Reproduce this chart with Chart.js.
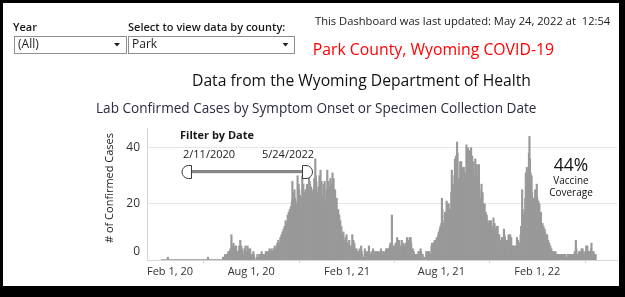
<!DOCTYPE html>
<html>
<head>
<meta charset="utf-8">
<title>Park County, Wyoming COVID-19</title>
<script src="https://cdn.jsdelivr.net/npm/chart.js@4.4.1/dist/chart.umd.min.js"></script>
<style>
  html, body { margin: 0; padding: 0; background: #fff; }
  #page { position: relative; width: 625px; height: 297px; overflow: hidden;
          font-family: "Open Sans", "Noto Sans", sans-serif; color: #222; }
  #chart { position: absolute; left: 0; top: 0; }
  .t { position: absolute; white-space: pre; line-height: 1; }
  .lbl { font-size: 11px; font-weight: 600; color: #1a1a1a; }
  .box { position: absolute; box-sizing: border-box; height: 18px; top: 36px;
         border: 1px solid #8f8f8f; background: #fff; }
  .box span { position: absolute; left: 3px; top: 1.3px; font-size: 12px; line-height: 1; color: #222; }
  .center { text-align: center; width: 80px; }
  #frame { position: absolute; left: 0; top: 0; width: 625px; height: 297px; box-sizing: border-box;
           border-style: solid; border-color: #000; border-width: 3px 6px 11px 3px; pointer-events: none; }
</style>
</head>
<body>
<div id="page">
  <canvas id="chart" width="625" height="297"></canvas>

  <div class="t lbl" style="left:13px; top:21.2px;">Year</div>
  <div class="box" style="left:14px; width:113px;"><span>(All)</span></div>
  <div class="t lbl" style="left:128px; top:21.2px;">Select to view data by county:</div>
  <div class="box" style="left:128px; width:167px;"><span>Park</span></div>

  <div class="t" style="left:315px; top:14.8px; font-size:11.2px; color:#1a1a1a;">This Dashboard was last updated: May 24, 2022 at  12:54</div>
  <div class="t" style="left:312.7px; top:42.3px; font-size:15.8px; color:#ff0000;">Park County, Wyoming COVID-19</div>
  <div class="t" style="left:192px; top:73.1px; font-size:15.7px; color:#111;">Data from the Wyoming Department of Health</div>
  <div class="t" style="left:96px; top:100.9px; font-size:13.6px; color:#2a2a40;">Lab Confirmed Cases by Symptom Onset or Specimen Collection Date</div>

  <div class="t" style="left:180px; top:128.5px; font-size:11px; font-weight:700; color:#1a1a1a;">Filter by Date</div>
  <div class="t" style="left:183px; top:148.4px; font-size:11px; color:#222;">2/11/2020</div>
  <div class="t" style="left:262px; top:148.4px; font-size:11px; color:#222;">5/24/2022</div>

  <div class="t center" style="left:531px; top:155.6px; font-size:17.5px; color:#111;">44%</div>
  <div class="t center" style="left:531px; top:174.5px; font-size:10px; color:#111;">Vaccine</div>
  <div class="t center" style="left:531px; top:186.6px; font-size:10px; color:#111;">Coverage</div>

  <svg width="625" height="297" style="position:absolute; left:0; top:0; pointer-events:none;">
    <!-- dropdown arrows -->
    <path d="M114 43 H120 L117 46.5 Z" fill="#222"/>
    <path d="M282.5 43 H288.5 L285.5 46.5 Z" fill="#222"/>
    <!-- date range slider -->
    <rect x="191.5" y="170" width="111" height="3.2" fill="#868686"/>
    <path d="M191.5 165.5 H188.5 A6.5 6.5 0 0 0 188.5 178.5 H191.5 Z" fill="#fff" stroke="#3a3a3a" stroke-width="1"/>
    <path d="M302.5 165.5 H306 A6.5 6.5 0 0 1 306 178.5 H302.5 Z" fill="#fff" stroke="#3a3a3a" stroke-width="1"/>
  </svg>

  <div id="frame"></div>
</div>

<script>
// Daily lab-confirmed cases for Park County, starting on firstDay.
const firstDay = '2020-02-11';

const cases2020 = [
  // Feb 11 - Feb 29
  0,0,0,0,0,0,0,0,0,0,0,0,1,0,0,0,0,0,0,
  // Mar
  0,0,0,0,0,0,0,0,0,0,0,0,0,0,0,0,0,0,0,0,0,0,0,0,0,0,0,0,0,0,0,
  // Apr
  0,0,0,0,0,0,0,0,0,0,0,0,0,0,0,0,0,0,0,0,0,0,0,0,0,0,0,0,0,0,
  // May
  0,0,0,0,0,0,0,0,0,1,0,0,0,0,0,0,0,0,0,0,0,0,0,0,0,0,0,0,0,0,0,
  // Jun
  0,0,0,0,0,0,0,1,0,1,1,2,0,1,2,1,2,3,2,3,1,4,3,9,5,5,2,6,4,5,
  // Jul
  4,2,5,3,2,3,3,1,5,4,7,3,5,4,3,1,2,2,4,3,5,2,3,2,5,3,4,2,3,4,2,
  // Aug
  2,1,2,1,3,2,1,0,0,0,0,1,2,1,0,1,2,1,2,1,3,2,1,2,1,0,2,1,3,2,3,
  // Sep
  2,1,3,2,4,3,2,3,4,3,2,3,4,2,5,3,4,3,5,6,4,7,5,6,4,8,6,9,7,10,
  // Oct
  8,11,9,12,10,14,12,13,11,16,14,17,15,18,16,19,17,21,28,22,24,19,25,22,21,18,20,17,30,24,27,
  // Nov
  25,21,23,19,22,20,30,26,27,22,24,20,25,21,24,27,23,24,21,32,28,27,23,26,22,24,20,25,22,29,
  // Dec
  26,36,30,28,24,21,24,26,22,30,27,32,26,28,23,20,23,27,24,28,21,19,21,25,32,24,28,22,26,23,29
];

const cases2021 = [
  // Jan
  24,27,23,31,26,29,25,22,25,22,19,22,17,15,18,14,16,13,14,11,12,9,8,9,10,7,6,7,8,5,9,
  // Feb
  6,4,5,3,7,5,4,5,3,4,9,6,7,5,6,4,3,2,4,3,2,1,3,2,4,2,3,5,
  // Mar
  3,2,1,0,1,0,4,2,3,1,2,1,3,2,5,3,2,1,2,1,3,2,4,2,2,1,3,2,3,2,2,
  // Apr
  3,2,3,1,2,1,4,2,3,2,3,1,2,2,3,2,4,3,4,2,4,3,4,5,6,4,5,16,5,4,
  // May
  5,3,5,4,6,5,4,8,6,7,5,7,4,5,3,5,7,4,6,5,3,5,4,6,4,5,8,6,7,5,6,
  // Jun
  8,5,8,6,4,3,4,2,3,2,1,2,2,1,2,1,2,3,2,3,2,4,3,2,1,2,1,0,1,0,
  // Jul
  0,0,3,2,3,1,3,2,3,2,1,2,5,6,4,6,5,6,7,5,7,6,8,6,7,9,10,8,11,12,10,
  // Aug
  13,22,18,12,13,11,14,17,15,17,21,18,20,17,20,16,18,15,18,24,32,26,27,22,27,30,36,31,37,33,42,
  // Sep
  38,29,26,29,24,35,28,35,31,27,33,29,33,30,31,27,28,41,36,34,40,35,39,30,28,30,40,33,37,32,
  // Oct
  35,30,28,29,36,31,30,34,28,26,30,34,25,22,20,22,27,23,24,20,19,17,20,16,17,14,16,13,14,12,13,
  // Nov
  11,14,12,14,10,12,9,12,15,11,13,10,11,9,12,10,12,9,8,9,7,6,7,5,8,6,8,7,11,9,
  // Dec
  8,6,7,5,6,7,5,9,7,8,9,6,8,5,4,5,3,5,4,5,3,4,5,8,6,7,5,6,4,6,9
];

const cases2022 = [
  // Jan
  12,8,25,18,14,16,13,17,22,31,28,33,27,30,26,38,44,36,31,28,30,24,18,22,20,17,21,25,19,23,27,
  // Feb
  22,19,21,17,20,16,14,17,13,12,13,10,12,9,11,10,8,9,7,9,6,7,5,6,4,5,3,4,
  // Mar
  3,2,3,1,3,2,2,3,1,2,2,1,2,2,1,2,1,2,2,1,2,1,2,2,1,2,1,0,0,1,2,
  // Apr
  2,1,2,1,2,2,1,2,1,2,2,1,2,3,2,7,4,2,2,1,2,3,2,3,2,3,4,2,4,3,
  // May 1 - May 24
  2,1,2,3,2,5,4,5,3,2,3,2,3,2,4,6,3,3,2,3,2,2,1,2
];

// Axis settings
const axisStart = '2020-01-14';
const axisEnd = '2022-07-04';
const xTickDates = ['2020-02-01', '2020-08-01', '2021-02-01', '2021-08-01', '2022-02-01'];
const xTickLabels = ['Feb 1, 20', 'Aug 1, 20', 'Feb 1, 21', 'Aug 1, 21', 'Feb 1, 22'];
const yTicks = [0, 20, 40];
const yMax = 47;

// Day number counted from 2020-01-01
const epoch = Date.UTC(2020, 0, 1);
function dayNum(iso) {
  const [y, m, d] = iso.split('-').map(Number);
  return Math.round((Date.UTC(y, m - 1, d) - epoch) / 86400000);
}

const start = dayNum(firstDay);
const points = cases2020.concat(cases2021, cases2022).map((v, i) => ({ x: start + i, y: v }));
const xTickDays = xTickDates.map(dayNum);

const FONT = '"Open Sans", "Noto Sans", sans-serif';

// Tick labels and the axis title, placed from the scales and kept inside the plot edges
const axisText = {
  id: 'axisText',
  afterDraw(chart) {
    const { ctx, chartArea } = chart;
    const xs = chart.scales.x, ys = chart.scales.y;
    ctx.save();
    ctx.fillStyle = '#333';

    ctx.font = '12px ' + FONT;
    ctx.textAlign = 'right';
    ctx.textBaseline = 'middle';
    ys.ticks.forEach(t => {
      const py = Math.min(ys.getPixelForValue(t.value), chartArea.bottom - 8.5);
      ctx.fillText(String(t.value), chartArea.left - 7, py);
    });

    ctx.font = '11px ' + FONT;
    ctx.textAlign = 'left';
    ctx.textBaseline = 'alphabetic';
    xs.ticks.forEach((t, i) => {
      const label = xTickLabels[i];
      const w = ctx.measureText(label).width;
      const px = Math.max(xs.getPixelForValue(t.value) - w / 2, chartArea.left);
      ctx.fillText(label, px, chartArea.bottom + 14.5);
    });

    ctx.font = '11px ' + FONT;
    ctx.fillStyle = '#222';
    ctx.textAlign = 'center';
    ctx.translate(112.5, chartArea.top + 60);
    ctx.rotate(-Math.PI / 2);
    ctx.fillText('# of Confirmed Cases', 0, 0);
    ctx.restore();
  }
};

new Chart(document.getElementById('chart'), {
  type: 'bar',
  data: {
    datasets: [{
      data: points,
      backgroundColor: '#999999',
      borderWidth: 0,
      barThickness: 1.5,
      grouped: false
    }]
  },
  options: {
    responsive: false,
    animation: false,
    devicePixelRatio: 1,
    layout: { padding: { left: 100, right: 8, top: 128, bottom: 11 } },
    plugins: { legend: { display: false }, tooltip: { enabled: false } },
    scales: {
      x: {
        type: 'linear',
        min: dayNum(axisStart),
        max: dayNum(axisEnd),
        offset: false,
        afterBuildTicks: s => { s.ticks = xTickDays.map(v => ({ value: v })); },
        afterFit: s => { s.height = 26; },
        ticks: { display: false },
        grid: { display: true, drawOnChartArea: false, drawTicks: true, tickLength: 3, tickColor: '#d2d2d2' },
        border: { display: true, color: '#d6d6d6' }
      },
      y: {
        min: 0,
        max: yMax,
        afterBuildTicks: s => { s.ticks = yTicks.map(v => ({ value: v })); },
        afterFit: s => { s.width = 47; },
        ticks: { display: false },
        grid: { color: '#e6e6e6', drawTicks: false },
        border: { display: true, color: '#d6d6d6' }
      }
    }
  },
  plugins: [axisText]
});
</script>
</body>
</html>
